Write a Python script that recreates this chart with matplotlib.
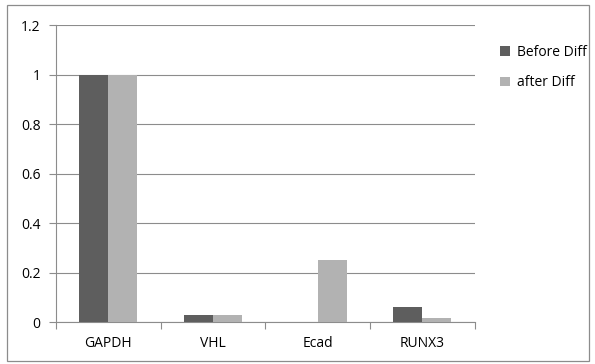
import matplotlib
matplotlib.use('Agg')
from matplotlib import pyplot as plt
from matplotlib.patches import Rectangle
import numpy as np

plt.rcParams['font.family'] = ['Open Sans', 'DejaVu Sans']

genes = ['GAPDH', 'VHL', 'Ecad', 'RUNX3']
before_diff = [1.0, 0.03, 0.0, 0.06]
after_diff = [1.0, 0.03, 0.25, 0.015]

dark = '#5e5e5e'
light = '#b2b2b2'
grid_col = '#8c8c8c'

fig = plt.figure(figsize=(5.95, 3.64), dpi=100)
ax = fig.add_axes([0.094, 0.115, 0.704, 0.816])

x = np.arange(len(genes))
w = 0.277
ax.bar(x - w / 2, before_diff, w, color=dark, label='Before Diff', zorder=3)
ax.bar(x + w / 2, after_diff, w, color=light, label='after Diff', zorder=3)

ax.set_xlim(-0.5, len(genes) - 0.5)
ax.set_ylim(0, 1.2)
ax.set_yticks(np.arange(0, 1.21, 0.2))
ax.set_yticklabels(['0', '0.2', '0.4', '0.6', '0.8', '1', '1.2'])
ax.yaxis.grid(True, color=grid_col, linewidth=0.8, zorder=0)

# category labels centred, tick marks on the group boundaries
ax.set_xticks(x)
ax.set_xticklabels(genes)
ax.tick_params(axis='x', length=0, pad=10, labelsize=10, colors='black')
ax.set_xticks(np.arange(-0.5, len(genes)), minor=True)
ax.tick_params(axis='x', which='minor', length=5, color=grid_col, width=0.8)
ax.tick_params(axis='y', length=5, color=grid_col, width=0.8, labelsize=10, pad=6)

for side in ['top', 'right']:
    ax.spines[side].set_visible(False)
ax.spines['left'].set_color(grid_col)
ax.spines['bottom'].set_color(grid_col)
ax.spines['left'].set_linewidth(0.8)
ax.spines['bottom'].set_linewidth(0.8)

ax.legend(loc='upper left', bbox_to_anchor=(1.03, 0.975), frameon=False,
          fontsize=10, handlelength=0.7, handleheight=0.7, handletextpad=0.5,
          labelspacing=1.1)

# outer chart border
fig.patches.append(Rectangle((0.012, 0.008), 0.978, 0.978, transform=fig.transFigure,
                             fill=False, edgecolor='#8c8c8c', linewidth=0.9))

fig.savefig('out.png', dpi=100)
